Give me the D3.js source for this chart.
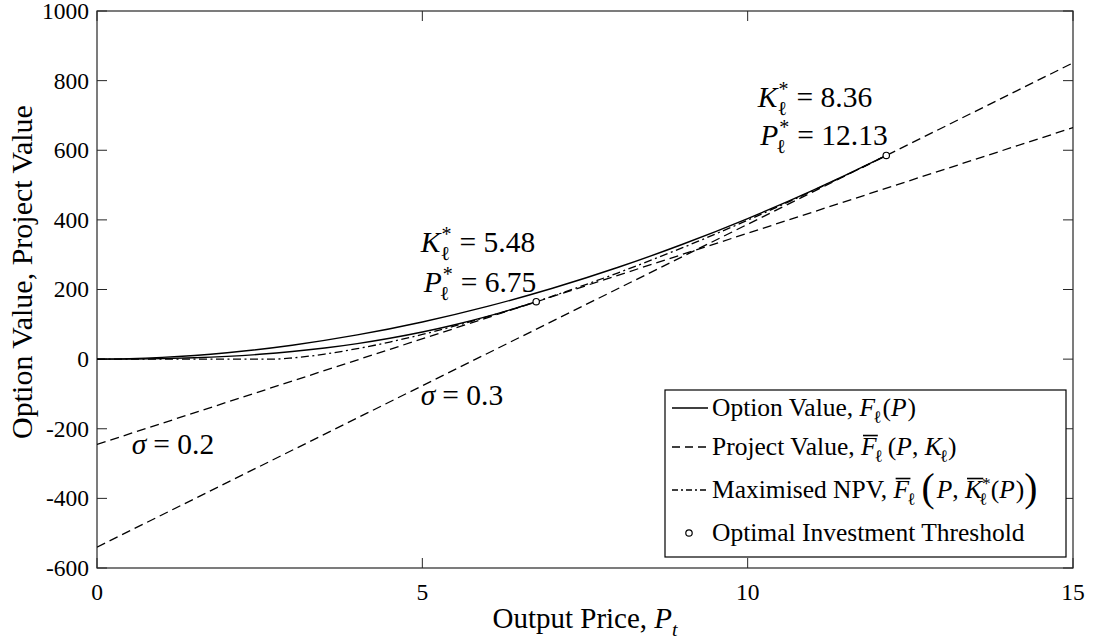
<!DOCTYPE html>
<html><head><meta charset="utf-8">
<script src="https://cdn.jsdelivr.net/npm/d3@7"></script>
<style>
body{margin:0;background:#fff;}
</style></head>
<body><svg id="c" width="1099" height="644"></svg>
<script>
// ---------- data ----------
const xTicks = [0, 5, 10, 15];
const yTicks = [-600, -400, -200, 0, 200, 400, 600, 800, 1000];
// Option value, sigma = 0.2 (ends at threshold P* = 6.75)
const optP02 = [0, 0.5, 1, 1.5, 2, 2.5, 3, 3.5, 4, 4.5, 5, 5.5, 6, 6.5, 6.75];
const optV02 = [0, 0.25, 1.4, 3.8, 7.9, 13.8, 21.7, 31.9, 44.6, 59.9, 77.9, 98.9, 122.9, 150.1, 165];
// Option value, sigma = 0.3 (ends at threshold P* = 12.13)
const optP03 = [0, 0.5, 1, 1.5, 2, 3, 4, 5, 6, 7, 8, 9, 10, 11, 12, 12.13];
const optV03 = [0, 1.3, 4.9, 10.6, 18.4, 40.0, 69.5, 106.7, 151.5, 203.6, 263.1, 329.9, 403.8, 484.8, 573.0, 585];
// Maximised NPV
const npvP = [0, 1, 2, 2.71, 3, 3.5, 4, 4.5, 5, 5.5, 6, 6.75, 7, 8, 9, 10, 11, 12, 12.13];
const npvV = [0, 0, 0, 0, 3.3, 14.5, 30.1, 49.1, 70.9, 95.2, 121.8, 165, 180.9, 247.3, 320.2, 399.1, 483.5, 572.9, 585];
// Project value lines (fixed K)
const projP = [0, 15];
const projV02 = [-245, 665];
const projV03 = [-540, 851];
// thresholds
const thrP = [6.75, 12.13];
const thrV = [165, 585];
const thrK = ["5.48", "8.36"];
const thrPlab = ["6.75", "12.13"];
const sigmaLabels = ["0.2", "0.3"];

// ---------- layout ----------
const FONT = '"Liberation Serif", "Times New Roman", Times, serif';
const svg = d3.select("#c");
const L = 97, R = 1073, T = 11, B = 568;
const x = d3.scaleLinear().domain([0, 15]).range([L, R]);
const y = d3.scaleLinear().domain([-600, 1000]).range([B, T]);
const axisCol = "#262626";

svg.append("clipPath").attr("id", "clip").append("rect")
  .attr("x", L).attr("y", T).attr("width", R - L).attr("height", B - T);

const ax = svg.append("g");
ax.append("rect").attr("x", L).attr("y", T).attr("width", R - L).attr("height", B - T)
  .attr("fill", "none").attr("stroke", axisCol).attr("stroke-width", 1.2);
const tl = 10;
yTicks.forEach(v => {
  ax.append("line").attr("x1", L).attr("x2", L + tl).attr("y1", y(v)).attr("y2", y(v)).attr("stroke", axisCol);
  ax.append("line").attr("x1", R).attr("x2", R - tl).attr("y1", y(v)).attr("y2", y(v)).attr("stroke", axisCol);
  ax.append("text").attr("x", L - 8).attr("y", y(v)).attr("dy", "0.34em").style("font-family", FONT)
    .attr("text-anchor", "end").attr("font-size", 23.5).text(v);
});
xTicks.forEach(v => {
  ax.append("line").attr("x1", x(v)).attr("x2", x(v)).attr("y1", B).attr("y2", B - tl).attr("stroke", axisCol);
  ax.append("line").attr("x1", x(v)).attr("x2", x(v)).attr("y1", T).attr("y2", T + tl).attr("stroke", axisCol);
  ax.append("text").attr("x", x(v)).attr("y", B + 32).style("font-family", FONT)
    .attr("text-anchor", "middle").attr("font-size", 23.5).text(v);
});

// ---------- math text helper ----------
function mathText(g, x0, y0, pieces, size, anchor) {
  const grp = g.append("g");
  let cx = 0;
  pieces.forEach(p => {
    if (p.sub !== undefined || p.sup !== undefined) {
      const ss = size * 0.68;
      let w = 0;
      if (p.sup !== undefined) {
        const t = grp.append("text").attr("x", cx + (p.supdx || 0)).attr("y", -size * 0.36)
          .style("font-family", FONT).attr("font-size", ss).text(p.sup);
        w = Math.max(w, t.node().getComputedTextLength() + (p.supdx || 0));
      }
      if (p.sub !== undefined) {
        const t = grp.append("text").attr("x", cx + (p.subdx || 0)).attr("y", size * 0.26)
          .style("font-family", FONT).attr("font-size", ss).attr("font-style", p.subit ? "italic" : "normal").text(p.sub);
        w = Math.max(w, t.node().getComputedTextLength() + (p.subdx || 0));
      }
      cx += w + (p.after || 0);
    } else {
      const fs = p.big ? size * 1.55 : size;
      const t = grp.append("text").attr("x", cx).attr("y", p.big ? size * 0.12 : 0)
        .style("font-family", FONT)
        .attr("font-size", fs).attr("font-style", p.it ? "italic" : "normal")
        .attr("xml:space", "preserve").style("white-space", "pre").text(p.t);
      const w = t.node().getComputedTextLength();
      if (p.bar) {
        grp.append("line").attr("x1", cx + size * 0.08).attr("x2", cx + w + size * 0.05)
          .attr("y1", -size * 0.78).attr("y2", -size * 0.78)
          .attr("stroke", "#000").attr("stroke-width", 1.6);
      }
      cx += w + (p.after || 0);
    }
  });
  let sx = x0;
  if (anchor === "middle") sx = x0 - cx / 2;
  if (anchor === "end") sx = x0 - cx;
  grp.attr("transform", `translate(${sx},${y0})`);
  return grp;
}

// axis titles
mathText(svg, (L + R) / 2, 628, [{t: "Output Price, "}, {t: "P", it: true}, {sub: "t", subit: true}], 29, "middle");
const yl = svg.append("g").attr("transform", `translate(32,272) rotate(-90)`);
mathText(yl, 0, 0, [{t: "Option Value, Project Value"}], 30, "middle");

// ---------- curves ----------
const plot = svg.append("g").attr("clip-path", "url(#clip)");
const line = d3.line().x(d => x(d[0])).y(d => y(d[1])).curve(d3.curveMonotoneX);
const straight = d3.line().x(d => x(d[0])).y(d => y(d[1]));
const zip = (a, b) => a.map((v, i) => [v, b[i]]);
const dash = "9,5", dashdot = "8,3.5,2,3.5";

plot.append("path").attr("d", straight(zip(projP, projV02)))
  .attr("fill", "none").attr("stroke", "#000").attr("stroke-width", 1.3).attr("stroke-dasharray", dash);
plot.append("path").attr("d", straight(zip(projP, projV03)))
  .attr("fill", "none").attr("stroke", "#000").attr("stroke-width", 1.3).attr("stroke-dasharray", dash);
plot.append("path").attr("d", line(zip(npvP, npvV)))
  .attr("fill", "none").attr("stroke", "#000").attr("stroke-width", 1.3).attr("stroke-dasharray", dashdot);
plot.append("path").attr("d", line(zip(optP02, optV02)))
  .attr("fill", "none").attr("stroke", "#000").attr("stroke-width", 1.4);
plot.append("path").attr("d", line(zip(optP03, optV03)))
  .attr("fill", "none").attr("stroke", "#000").attr("stroke-width", 1.4);
thrP.forEach((p, i) => {
  plot.append("circle").attr("cx", x(p)).attr("cy", y(thrV[i])).attr("r", 3.2)
    .attr("fill", "#fff").attr("stroke", "#000").attr("stroke-width", 1.2);
});

// ---------- annotations ----------
const annPos = [[478, 252, 480, 292], [815, 107, 824, 145]];
const AF = 29.5;
thrP.forEach((p, i) => {
  const a = annPos[i];
  mathText(svg, a[0], a[1], [{t: "K", it: true, after: 1}, {sup: "*", sub: "ℓ", subdx: -1, after: 8}, {t: "= " + thrK[i]}], AF, "middle");
  mathText(svg, a[2], a[3], [{t: "P", it: true, after: 1}, {sup: "*", sub: "ℓ", subdx: -3, after: 8}, {t: "= " + thrPlab[i]}], AF, "middle");
});
mathText(svg, 173, 454, [{t: "σ", it: true, after: 7}, {t: "= " + sigmaLabels[0]}], AF, "middle");
mathText(svg, 462, 405, [{t: "σ", it: true, after: 7}, {t: "= " + sigmaLabels[1]}], AF, "middle");

// ---------- legend ----------
const lg = svg.append("g");
const LX0 = 665, LX1 = 1066, LY0 = 390, LY1 = 557;
lg.append("rect").attr("x", LX0).attr("y", LY0).attr("width", LX1 - LX0).attr("height", LY1 - LY0)
  .attr("fill", "#fff").attr("stroke", "#000").attr("stroke-width", 1.2);
const rowY = [408, 447, 490, 533];
const sx0 = 672, sx1 = 708, tx = 712, fs = 25.5;
lg.append("line").attr("x1", sx0).attr("x2", sx1).attr("y1", rowY[0]).attr("y2", rowY[0]).attr("stroke", "#000").attr("stroke-width", 1.4);
lg.append("line").attr("x1", sx0).attr("x2", sx1).attr("y1", rowY[1]).attr("y2", rowY[1]).attr("stroke", "#000").attr("stroke-width", 1.3).attr("stroke-dasharray", "8,5");
lg.append("line").attr("x1", sx0).attr("x2", sx1).attr("y1", rowY[2]).attr("y2", rowY[2]).attr("stroke", "#000").attr("stroke-width", 1.3).attr("stroke-dasharray", "6,3,2,3");
lg.append("circle").attr("cx", 689).attr("cy", rowY[3]).attr("r", 3.2).attr("fill", "#fff").attr("stroke", "#000").attr("stroke-width", 1.2);
const bl = fs * 0.33;
mathText(lg, tx, rowY[0] + bl, [{t: "Option Value, "}, {t: "F", it: true}, {sub: "ℓ", subdx: -2, after: 1}, {t: "("}, {t: "P", it: true, after: 1}, {t: ")"}], fs, "start");
mathText(lg, tx, rowY[1] + bl, [{t: "Project Value, "}, {t: "F", it: true, bar: true}, {sub: "ℓ", subdx: -2, after: 5}, {t: "("}, {t: "P", it: true}, {t: ", "}, {t: "K", it: true}, {sub: "ℓ", subdx: -2}, {t: ")"}], fs, "start");
mathText(lg, tx, rowY[2] + bl, [{t: "Maximised NPV, "}, {t: "F", it: true, bar: true}, {sub: "ℓ", subdx: -2, after: 6}, {t: "(", big: true, after: 2}, {t: "P", it: true}, {t: ", "}, {t: "K", it: true, bar: true}, {sup: "*", sub: "ℓ", subdx: -3}, {t: "("}, {t: "P", it: true, after: 1}, {t: ")"}, {t: ")", big: true}], fs, "start");
mathText(lg, tx, rowY[3] + bl, [{t: "Optimal Investment Threshold"}], fs, "start");
</script></body></html>
